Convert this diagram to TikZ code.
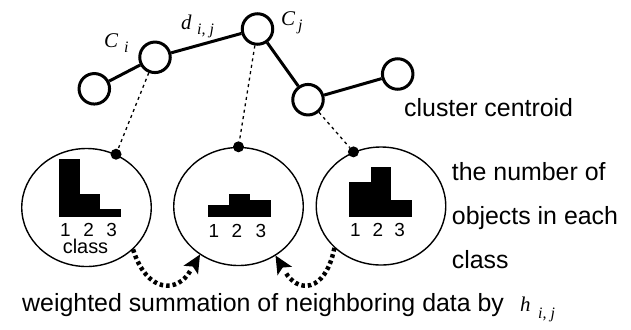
\documentclass[tikz,border=0pt]{standalone}
\usepackage{fontspec}
\setmainfont{Liberation Sans}
\newfontfamily\mathserif{Liberation Serif}
\usetikzlibrary{shapes.geometric,calc}

\begin{document}
\begin{tikzpicture}[x=1bp,y=-1bp,
  centroid/.style={circle,draw,line width=3bp,minimum size=30.5bp,inner sep=0pt},
  link/.style={line width=3bp},
  bag/.style={ellipse,draw,line width=1.4bp,minimum width=129.5bp,minimum height=118bp,inner sep=0pt},
  pin/.style={circle,fill,inner sep=0pt,minimum size=11bp},
  guide/.style={line width=1.3bp,dash pattern=on 3bp off 3.5bp},
  bar/.style={fill=black},
  flow/.style={line width=4.5bp,dash pattern=on 3.5bp off 3bp},
  lab/.style={font=\fontsize{25}{30}\selectfont,inner sep=0pt,anchor=base west},
  digit/.style={font=\fontsize{19}{20}\selectfont,inner sep=0pt,anchor=base,text depth=0pt},
  sym/.style={font=\mathserif\itshape\fontsize{21}{24}\selectfont,inner sep=0pt,anchor=base west},
  sub/.style={font=\mathserif\itshape\fontsize{16}{18}\selectfont,inner sep=0pt,anchor=base west}]

\useasboundingbox (0,0) rectangle (631,329);

% cluster centroids and their links
\node[centroid] (a)  at (94.3,88.8) {};
\node[centroid] (ci) at (155,57.3) {};
\node[centroid] (cj) at (257.5,29) {};
\node[centroid] (b)  at (308,99.7) {};
\node[centroid] (c)  at (397.7,74) {};
\draw[link] (a) -- (ci) -- (cj) -- (b) -- (c);

% centroid labels
\node[sym] (lci) at (104,47) {C};
\node[sub] (lcis) at (124,52) {i};
\node[sym] (ld) at (181,29) {d};
\node[sub] (lds) at (197,34.5) {i, j};
\node[sym] (lcj) at (281,25) {C};
\node[sub] (lcjs) at (298,30.5) {j};
\node[lab] (tcc) at (404,116) {cluster centroid};

% class histograms held by three centroids
\node[bag] (h1) at (86.5,207.5) {};
\node[bag] (h2) at (238.5,206.5) {};
\node[bag] (h3) at (381,206) {};

\node[pin] (p1) at (h1.61.6) {};
\node[pin] (p2) at (h2.90) {};
\node[pin] (p3) at (h3.117) {};

\draw[guide] (ci) -- (p1);
\draw[guide] (cj) -- (p2);
\draw[guide] (b) -- (p3);

% bars of the first histogram
\fill[bar] (59.3,159.3) rectangle (80,216.5);
\fill[bar] (80,194.3) rectangle (100,216.5);
\fill[bar] (100,209) rectangle (120.7,216.5);
\node[digit] (n11) at (65.5,236) {1};
\node[digit] (n12) at (88.7,236) {2};
\node[digit] (n13) at (111.7,236) {3};
\node[digit,font=\fontsize{20}{20}\selectfont,text height=14bp] (cls) at (85.5,253) {class};

% bars of the second histogram
\fill[bar] (207.7,205) rectangle (229,216.7);
\fill[bar] (229,194.3) rectangle (250,216.7);
\fill[bar] (250,200) rectangle (271,216.7);
\node[digit] (n21) at (214,237) {1};
\node[digit] (n22) at (237,237) {2};
\node[digit] (n23) at (261,237) {3};

% bars of the third histogram
\fill[bar] (349,182.3) rectangle (370.7,216.7);
\fill[bar] (370.7,166.7) rectangle (391,216.7);
\fill[bar] (391,200) rectangle (411.7,216.7);
\node[digit] (n31) at (355.5,236.7) {1};
\node[digit] (n32) at (378,236.7) {2};
\node[digit] (n33) at (399.7,236.7) {3};

\node[lab] (t1) at (451.7,180) {the number of};
\node[lab] (t2) at (451.7,224) {objects in each};
\node[lab] (t3) at (451.7,268.3) {class};

% neighbour weighting arrows: dotted body ending in a solid stealth head
\coordinate (s1) at (h1.-42);
\coordinate (s2) at (h3.-138);
\coordinate (e1) at (200,254.5);
\coordinate (e2) at (275.5,255.5);
\coordinate (k1) at (190.5,270.5);
\coordinate (k2) at (285,271.5);
\draw[flow] (s1) .. controls (147,294) and (178,293) .. (k1);
\draw[flow] (s2) .. controls (325,294) and (297,293) .. (k2);
\fill let \p1=($(k1)-(e1)$), \n1={atan2(\y1,\x1)} in
  (e1) -- ($(e1)+(\n1+25:20bp)$) -- ($(e1)!14bp!(k1)$) -- ($(e1)+(\n1-25:20bp)$) -- cycle;
\fill let \p1=($(k2)-(e2)$), \n1={atan2(\y1,\x1)} in
  (e2) -- ($(e2)+(\n1+25:20bp)$) -- ($(e2)!14bp!(k2)$) -- ($(e2)+(\n1-25:20bp)$) -- cycle;

\node[lab] (tw) at (22,311.5) {weighted summation of neighboring data by};
\node[sym] (lh) at (520,311.5) {h};
\node[sub] (lhs) at (538,318.5) {i, j};
\end{tikzpicture}
\end{document}
